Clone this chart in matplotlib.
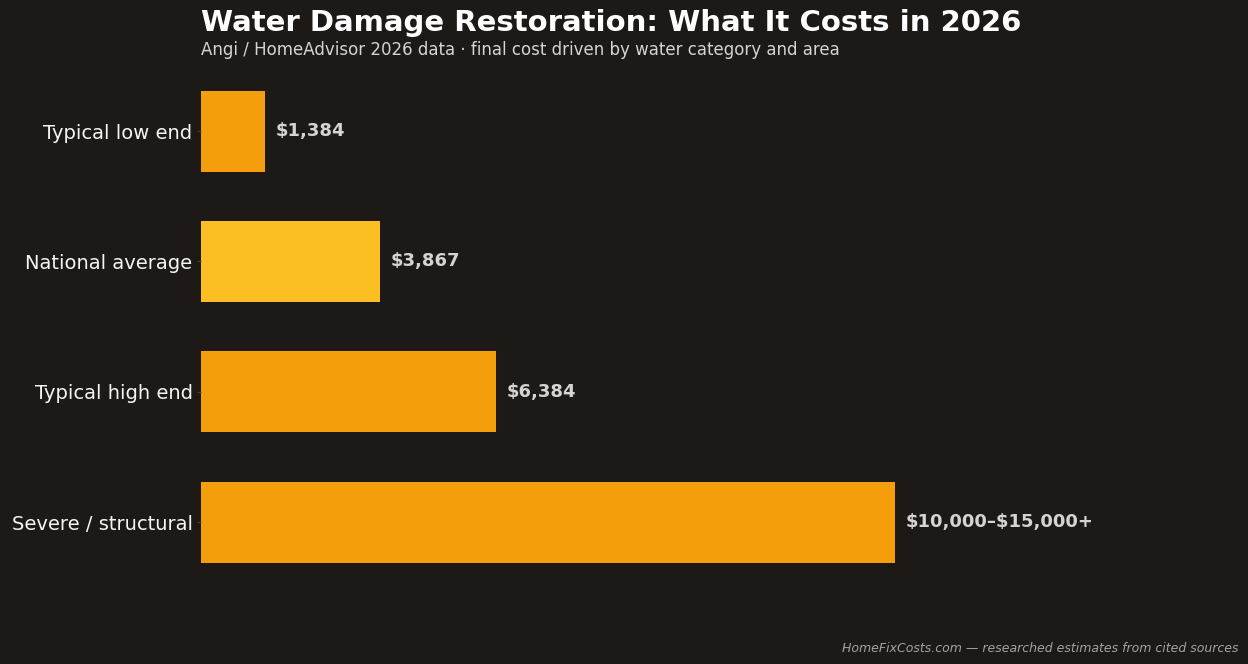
import matplotlib
matplotlib.use("Agg")
import matplotlib.pyplot as plt

categories = ["Typical low end", "National average", "Typical high end", "Severe / structural"]
values = [1384, 3867, 6384, 15000]
labels = [r"\$1,384", r"\$3,867", r"\$6,384", r"\$10,000–\$15,000+"]
colors = ["#F59E0B", "#FBBF24", "#F59E0B", "#F59E0B"]

BG = "#1D1917"

fig = plt.figure(figsize=(12.48, 6.64), dpi=100, facecolor=BG)
ax = fig.add_axes([0.161, 0.117, 0.834, 0.782], facecolor=BG)

y = list(range(len(categories)))
ax.barh(y, values, height=0.62, color=colors)
ax.set_yticks(y)
ax.set_yticklabels(categories, fontsize=14, color="#F5F5F4")
ax.invert_yaxis()
ax.set_xlim(0, max(values) * 1.5)
ax.set_xticks([])
for s in ax.spines.values():
    s.set_visible(False)
ax.tick_params(axis="y", length=3, color="#44403C", pad=3)

for yi, v, lab in zip(y, values, labels):
    ax.text(v + 230, yi, lab, va="center", ha="left", fontsize=13,
            fontweight="bold", color="#D6D3D1")

fig.text(0.161, 0.965, "Water Damage Restoration: What It Costs in 2026",
         fontsize=21, fontweight="bold", color="white", ha="left", va="center")
fig.text(0.161, 0.925, "Angi / HomeAdvisor 2026 data · final cost driven by water category and area",
         fontsize=12, color="#D6D3D1", ha="left", va="center")
fig.text(0.992, 0.024, "HomeFixCosts.com — researched estimates from cited sources",
         fontsize=9, style="italic", color="#A8A29E", ha="right", va="center")

fig.savefig("out.png", dpi=100, facecolor=BG)
